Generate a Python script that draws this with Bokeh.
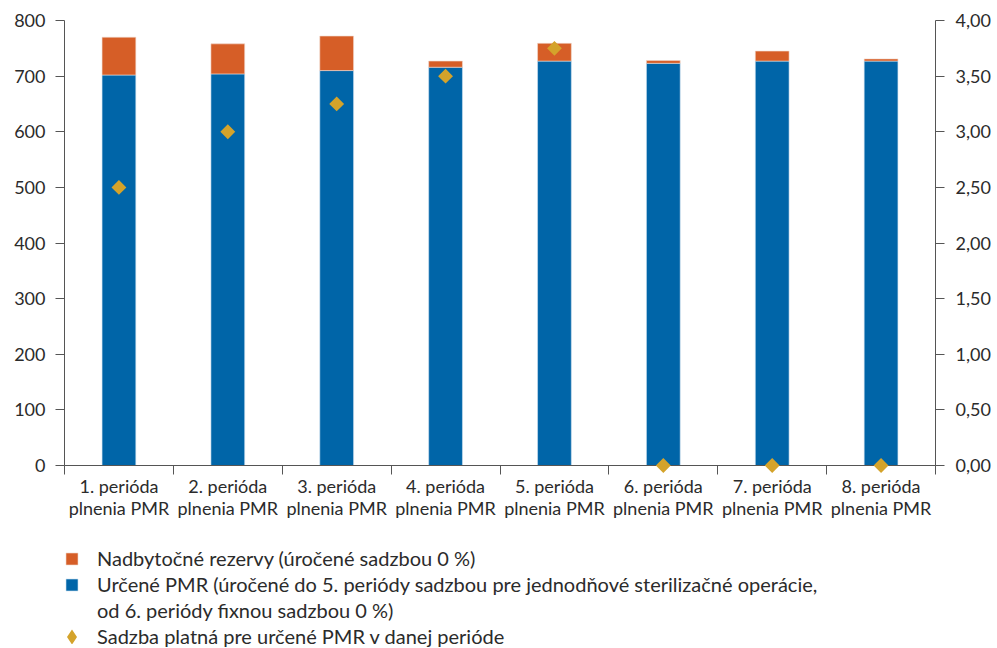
import math
from bokeh.plotting import figure
from bokeh.layouts import column
from bokeh.models import (Range1d, LinearAxis, FixedTicker, Legend, LegendItem,
                          ColumnDataSource)
from bokeh.embed import file_html
from bokeh.resources import INLINE

# ---- data ----
categories = ["1. perióda\nplnenia PMR", "2. perióda\nplnenia PMR", "3. perióda\nplnenia PMR",
              "4. perióda\nplnenia PMR", "5. perióda\nplnenia PMR", "6. perióda\nplnenia PMR",
              "7. perióda\nplnenia PMR", "8. perióda\nplnenia PMR"]
urcene_pmr = [702, 704, 710, 716, 727, 723, 727, 727]
nadbytocne = [68, 54, 62, 11, 32, 5, 18, 4]
sadzba = [2.50, 3.00, 3.25, 3.50, 3.75, 0.00, 0.00, 0.00]
left_ticks = [0, 100, 200, 300, 400, 500, 600, 700, 800]
right_ticks = [0.0, 0.5, 1.0, 1.5, 2.0, 2.5, 3.0, 3.5, 4.0]
right_tick_labels = ["0,00", "0,50", "1,00", "1,50", "2,00", "2,50", "3,00", "3,50", "4,00"]
legend_labels = ["Nadbytočné rezervy (úročené sadzbou 0 %)",
                 "Určené PMR (úročené do 5. periódy sadzbou pre jednodňové sterilizačné operácie,",
                 "od 6. periódy fixnou sadzbou 0 %)",
                 "Sadzba platná pre určené PMR v danej perióde"]

ORANGE = "#D65E27"
BLUE = "#0065A8"
GOLD = "#D4A32B"
AXIS = "#555555"
TXT = "#2b2b2b"
FONT = "Lato"
FS = "18px"
LFS = "20px"

n = len(categories)
xs = [i + 0.5 for i in range(n)]
tops = [a + b for a, b in zip(urcene_pmr, nadbytocne)]
src = ColumnDataSource(dict(x=xs, blue=urcene_pmr, top=tops, rate=sadzba))

p = figure(frame_width=871, frame_height=445, output_backend="svg", toolbar_location=None,
           x_range=Range1d(0, n), y_range=Range1d(0, 800),
           min_border_left=64, min_border_right=62, min_border_top=20, min_border_bottom=75)
p.extra_y_ranges = {"rate": Range1d(0, 4)}
p.grid.visible = False
p.outline_line_color = None
p.background_fill_color = "white"
p.border_fill_color = "white"

bar_style_blue = dict(fill_color=BLUE, line_color="#cfe0f0", line_width=0.6)
bar_style_orange = dict(fill_color=ORANGE, line_color="#f0d8cc", line_width=0.6)

p.vbar(x="x", top="blue", bottom=0, width=0.31, source=src, **bar_style_blue)
p.vbar(x="x", top="top", bottom="blue", width=0.31, source=src, **bar_style_orange)
p.scatter(x="x", y="rate", y_range_name="rate", source=src, size=6.5,
          marker="square", angle=math.pi / 4, line_width=4, line_join="miter",
          fill_color=GOLD, line_color=GOLD, level="overlay")

def style_axis(ax):
    ax.axis_line_color = AXIS
    ax.major_tick_line_color = AXIS
    ax.minor_tick_line_color = AXIS
    ax.major_tick_in = 0
    ax.major_tick_out = 9
    ax.minor_tick_in = 0
    ax.minor_tick_out = 9
    ax.major_label_text_font = FONT
    ax.major_label_text_font_size = FS
    ax.major_label_text_color = TXT
    ax.major_label_standoff = 10

# x axis
xa = p.xaxis[0]
xa.ticker = FixedTicker(ticks=xs, minor_ticks=list(range(n + 1)))
xa.major_label_overrides = {x: c for x, c in zip(xs, categories)}
style_axis(xa)
xa.major_tick_line_color = None
xa.major_label_standoff = 0
xa.major_label_text_line_height = 1.0

# left axis
ya = p.yaxis[0]
ya.ticker = FixedTicker(ticks=left_ticks)
style_axis(ya)
ya.minor_tick_line_color = None

# right axis
ra = LinearAxis(y_range_name="rate", ticker=FixedTicker(ticks=right_ticks))
ra.major_label_overrides = {t: l for t, l in zip(right_ticks, right_tick_labels)}
style_axis(ra)
ra.minor_tick_line_color = None
ra.major_label_standoff = 11
p.add_layout(ra, "right")

# ---- legend strip below the chart (same data, view range kept away from the marks) ----
lg = figure(width=997, height=108, output_backend="svg", toolbar_location=None,
            x_axis_location=None, y_axis_location=None,
            x_range=Range1d(1000, 1001), y_range=Range1d(1000, 1001),
            min_border=0, min_border_left=0, min_border_right=0,
            min_border_top=0, min_border_bottom=0)
lg.grid.visible = False
lg.outline_line_color = None
l_orange = lg.vbar(x="x", top="top", bottom="blue", width=0.31, source=src, **bar_style_orange)
l_blue = lg.vbar(x="x", top="blue", bottom=0, width=0.31, source=src, **bar_style_blue)
l_none = lg.vbar(x="x", top="blue", bottom=0, width=0.31, source=src,
                 fill_alpha=0, line_alpha=0)
l_rate = lg.scatter(x="x", y="rate", source=src, size=6, marker="diamond",
                    line_width=5, line_join="miter", fill_color=GOLD, line_color=GOLD)

legend = Legend(items=[LegendItem(label=legend_labels[0], renderers=[l_orange]),
                       LegendItem(label=legend_labels[1], renderers=[l_blue]),
                       LegendItem(label=legend_labels[2], renderers=[l_none]),
                       LegendItem(label=legend_labels[3], renderers=[l_rate])],
                location=(0, 0), orientation="vertical",
                label_text_font=FONT, label_text_font_size=LFS, label_text_color=TXT,
                glyph_width=15, glyph_height=15, label_standoff=18, label_height=20,
                spacing=2, padding=0, margin=0, border_line_color=None,
                background_fill_alpha=0)
lg.add_layout(legend, "center")

layout = column(p, lg, spacing=0)
open("out.html", "w").write(file_html(layout, INLINE))
